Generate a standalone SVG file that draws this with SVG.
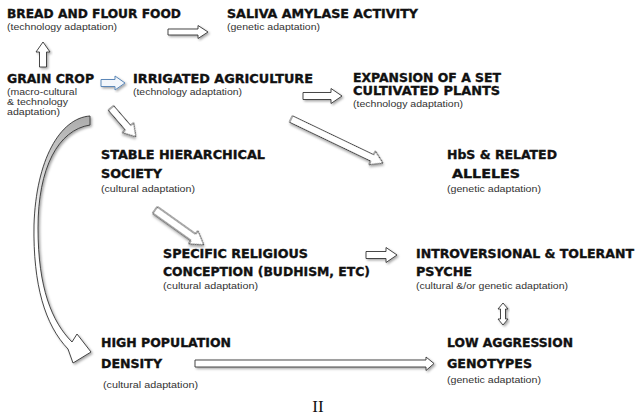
<svg xmlns="http://www.w3.org/2000/svg" width="636" height="416" viewBox="0 0 636 416">
<style>
.h{font-family:"DejaVu Sans","Liberation Sans",Arial,sans-serif;font-weight:bold;font-size:12px;fill:#111;stroke:#111;stroke-width:0.35}
.s{font-family:"Liberation Sans",Arial,sans-serif;font-size:9.5px;fill:#333}
.ar{fill:#fff;stroke:#333;stroke-width:0.9;stroke-linejoin:miter;filter:url(#sh)}
.blue{fill:#f2f6fb;stroke:#5b87b8;stroke-width:1}
.num{font-family:"Liberation Serif","Times New Roman",serif;font-size:17px;fill:#111}
</style>
<defs>
<filter id="sh" x="-20%" y="-20%" width="140%" height="140%">
<feDropShadow dx="1.5" dy="1.5" stdDeviation="1" flood-color="#000" flood-opacity="0.35"/>
</filter>
<linearGradient id="cg" gradientUnits="userSpaceOnUse" x1="0" y1="112" x2="0" y2="235">
<stop offset="0" stop-color="#a8a8a8"/>
<stop offset="0.55" stop-color="#dcdcdc"/>
<stop offset="1" stop-color="#ffffff"/>
</linearGradient>
</defs>
<rect width="636" height="416" fill="#fff"/>

<g id="connectors">
<path class="ar" d="M168,29 H198 V25.5 L208,32 L198,38.5 V35 H168 Z"/>
<path class="ar" d="M39.5,67 V52 H36 L43,42 L50,52 H46.5 V67 Z"/>
<path class="ar blue" d="M101,79.5 H115 V76 L125,83 L115,90 V86.5 H101 Z"/>
<path class="ar" d="M303,92.5 H331 V88.5 L342,96 L331,103.5 V99.5 H303 Z"/>
<path class="ar" transform="translate(291,119) rotate(25.6)" d="M0,-3.5 H90 V-7.5 L102,0 L90,7.5 V3.5 H0 Z"/>
<path class="ar" transform="translate(111,108) rotate(49.2)" d="M0,-3.5 H26 V-7.5 L38,0 L26,7.5 V3.5 H0 Z"/>
<path class="ar" transform="translate(155,210) rotate(35.5)" d="M0,-4 H47 V-8 L60,0 L47,8 V4 H0 Z"/>
<path class="ar" d="M366,251.5 H386 V247.5 L397,255 L386,262.5 V258.5 H366 Z"/>
<path class="ar" d="M500.5,309 V319 H498 L503,325 L508,319 H505.5 V309 H508 L503,303 L498,309 Z"/>
<path class="ar" d="M195,360 H426 V357 L434,363.5 L426,370.5 V367 H195 Z"/>
<path class="ar" style="fill:url(#cg)" d="M90,116 C60,118 36,160 34,225 C33,285 45,325 68,349 L73,363 L91,352 L77,334 L72,342 C52,322 38,288 38,228 C38,168 58,130 90,125 Z"/>
</g>

<g id="bread">
<text class="h" x="7" y="18" textLength="174" lengthAdjust="spacingAndGlyphs">BREAD AND FLOUR FOOD</text>
<text class="s" x="7" y="30" textLength="110" lengthAdjust="spacingAndGlyphs">(technology adaptation)</text>
</g>
<g id="saliva">
<text class="h" x="227" y="18" textLength="191" lengthAdjust="spacingAndGlyphs">SALIVA AMYLASE ACTIVITY</text>
<text class="s" x="227" y="30" textLength="93" lengthAdjust="spacingAndGlyphs">(genetic adaptation)</text>
</g>
<g id="grain">
<text class="h" x="7" y="83" textLength="87" lengthAdjust="spacingAndGlyphs">GRAIN CROP</text>
<text class="s" x="7" y="95" textLength="70" lengthAdjust="spacingAndGlyphs">(macro-cultural</text>
<text class="s" x="7" y="105" textLength="61" lengthAdjust="spacingAndGlyphs">&amp; technology</text>
<text class="s" x="7" y="115" textLength="53" lengthAdjust="spacingAndGlyphs">adaptation)</text>
</g>
<g id="irrigated">
<text class="h" x="133" y="83" textLength="180" lengthAdjust="spacingAndGlyphs">IRRIGATED AGRICULTURE</text>
<text class="s" x="133" y="95" textLength="109" lengthAdjust="spacingAndGlyphs">(technology adaptation)</text>
</g>
<g id="expansion">
<text class="h" x="353" y="82" textLength="148" lengthAdjust="spacingAndGlyphs">EXPANSION OF A SET</text>
<text class="h" x="353" y="94.5" textLength="147" lengthAdjust="spacingAndGlyphs">CULTIVATED PLANTS</text>
<text class="s" x="353" y="106.5" textLength="110" lengthAdjust="spacingAndGlyphs">(technology adaptation)</text>
</g>
<g id="stable">
<text class="h" x="101" y="159" textLength="164" lengthAdjust="spacingAndGlyphs">STABLE HIERARCHICAL</text>
<text class="h" x="101" y="178" textLength="61" lengthAdjust="spacingAndGlyphs">SOCIETY</text>
<text class="s" x="101" y="192" textLength="94" lengthAdjust="spacingAndGlyphs">(cultural adaptation)</text>
</g>
<g id="hbs">
<text class="h" x="447" y="159" textLength="110" lengthAdjust="spacingAndGlyphs">HbS &amp; RELATED</text>
<text class="h" x="452" y="178" textLength="68" lengthAdjust="spacingAndGlyphs">ALLELES</text>
<text class="s" x="447" y="192" textLength="94" lengthAdjust="spacingAndGlyphs">(genetic adaptation)</text>
</g>
<g id="religious">
<text class="h" x="163" y="258" textLength="145" lengthAdjust="spacingAndGlyphs">SPECIFIC RELIGIOUS</text>
<text class="h" x="163" y="276" textLength="207" lengthAdjust="spacingAndGlyphs">CONCEPTION (BUDHISM, ETC)</text>
<text class="s" x="163" y="289" textLength="95" lengthAdjust="spacingAndGlyphs">(cultural adaptation)</text>
</g>
<g id="introversional">
<text class="h" x="416" y="258" textLength="218" lengthAdjust="spacingAndGlyphs">INTROVERSIONAL &amp; TOLERANT</text>
<text class="h" x="416" y="276" textLength="56" lengthAdjust="spacingAndGlyphs">PSYCHE</text>
<text class="s" x="416" y="289" textLength="152" lengthAdjust="spacingAndGlyphs">(cultural &amp;/or genetic adaptation)</text>
</g>
<g id="density">
<text class="h" x="101" y="347" textLength="130" lengthAdjust="spacingAndGlyphs">HIGH POPULATION</text>
<text class="h" x="101" y="368" textLength="61" lengthAdjust="spacingAndGlyphs">DENSITY</text>
<text class="s" x="103" y="388" textLength="95" lengthAdjust="spacingAndGlyphs">(cultural adaptation)</text>
</g>
<g id="aggression">
<text class="h" x="447" y="347" textLength="126" lengthAdjust="spacingAndGlyphs">LOW AGGRESSION</text>
<text class="h" x="447" y="368" textLength="85" lengthAdjust="spacingAndGlyphs">GENOTYPES</text>
<text class="s" x="447" y="383" textLength="94" lengthAdjust="spacingAndGlyphs">(genetic adaptation)</text>
</g>
<g id="label">
<text class="num" x="318" y="412" text-anchor="middle">II</text>
</g>
</svg>
